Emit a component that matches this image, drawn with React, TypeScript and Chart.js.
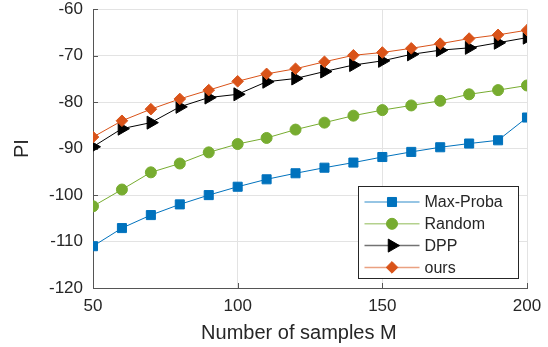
import React, { useEffect, useRef } from 'react';
import { Chart, registerables } from 'chart.js';
import { drawPoint } from 'chart.js/helpers';

Chart.register(...registerables);

const samples = [50, 60, 70, 80, 90, 100, 110, 120, 130, 140, 150, 160, 170, 180, 190, 200];
const maxProba = [-111.0, -107.1, -104.3, -102.0, -100.0, -98.2, -96.6, -95.3, -94.1, -93.0, -91.8, -90.7, -89.7, -88.9, -88.2, -83.3];
const random = [-102.4, -98.8, -95.1, -93.2, -90.8, -89.0, -87.7, -85.9, -84.4, -82.9, -81.7, -80.7, -79.7, -78.3, -77.4, -76.4];
const dpp = [-89.6, -85.7, -84.4, -81.0, -79.0, -78.3, -75.6, -74.9, -73.4, -72.0, -71.1, -69.7, -68.8, -68.3, -67.2, -66.1];
const ours = [-87.5, -84.0, -81.5, -79.3, -77.4, -75.5, -73.9, -72.8, -71.3, -69.9, -69.3, -68.4, -67.4, -66.3, -65.5, -64.5];
const seriesNames = ['Max-Proba', 'Random', 'DPP', 'ours'];
const xTicks = [50, 100, 150, 200];
const yTicks = [-120, -110, -100, -90, -80, -70, -60];

const FONT = "'Liberation Sans', Arial, Helvetica, sans-serif";
const TEXT = '#262626';

type Style = { color: string; pointStyle: string; radius: number; rotation: number };
const styles: Style[] = [
  { color: '#0072BD', pointStyle: 'rect', radius: 6.4, rotation: 0 },
  { color: '#77AC30', pointStyle: 'circle', radius: 5.5, rotation: 0 },
  { color: '#000000', pointStyle: 'triangle', radius: 7.5, rotation: 90 },
  { color: '#D95319', pointStyle: 'rectRot', radius: 5.8, rotation: 0 },
];

const inwardTicks = {
  id: 'inwardTicks',
  beforeDatasetsDraw(chart: any) {
    const { ctx, chartArea } = chart;
    const xs = chart.scales.x;
    const ys = chart.scales.y;
    ctx.save();
    ctx.strokeStyle = '#555555';
    ctx.lineWidth = 1;
    ctx.beginPath();
    yTicks.forEach((v) => {
      const y = Math.round(ys.getPixelForValue(v)) + 0.5;
      ctx.moveTo(chartArea.left, y);
      ctx.lineTo(chartArea.left + 5, y);
    });
    xTicks.forEach((v) => {
      const x = Math.round(xs.getPixelForValue(v)) + 0.5;
      ctx.moveTo(x, chartArea.bottom);
      ctx.lineTo(x, chartArea.bottom - 5);
    });
    ctx.stroke();
    ctx.restore();
  },
};

const boxLegend = {
  id: 'boxLegend',
  afterDraw(chart: any) {
    const { ctx, chartArea } = chart;
    const left = Math.round(chartArea.right - 169) + 0.5;
    const right = Math.round(chartArea.right - 9) + 0.5;
    const bottom = Math.round(chartArea.bottom - 10) + 0.5;
    const top = bottom - 92;
    ctx.save();
    ctx.fillStyle = '#ffffff';
    ctx.fillRect(left, top, right - left, bottom - top);
    ctx.strokeStyle = '#262626';
    ctx.lineWidth = 1;
    ctx.strokeRect(left, top, right - left, bottom - top);
    ctx.font = `16px ${FONT}`;
    ctx.textBaseline = 'middle';
    ctx.textAlign = 'left';
    seriesNames.forEach((name, i) => {
      const s = styles[i];
      const cy = top + 15.5 + i * 21.8;
      ctx.save();
      ctx.globalAlpha = 0.55;
      ctx.strokeStyle = s.color;
      ctx.lineWidth = 1.5;
      ctx.beginPath();
      ctx.moveTo(left + 6, cy);
      ctx.lineTo(left + 61, cy);
      ctx.stroke();
      ctx.restore();
      ctx.fillStyle = s.color;
      ctx.strokeStyle = s.color;
      ctx.lineWidth = 1;
      drawPoint(ctx, { pointStyle: s.pointStyle as any, radius: s.radius, rotation: s.rotation, borderWidth: 1 }, left + 33.5, cy);
      ctx.fillStyle = TEXT;
      ctx.fillText(name, left + 66, cy + 1);
    });
    ctx.restore();
  },
};

const zeroPad = (scale: any) => {
  scale.paddingTop = 0;
  scale.paddingBottom = 0;
  scale.paddingLeft = 0;
  scale.paddingRight = 0;
};

export default function App() {
  const ref = useRef<HTMLCanvasElement | null>(null);
  useEffect(() => {
    if (!ref.current) return;
    const seriesData = [maxProba, random, dpp, ours];
    const chart = new Chart(ref.current, {
      type: 'line',
      data: {
        datasets: seriesData.map((vals, i) => ({
          label: seriesNames[i],
          data: samples.map((x, j) => ({ x, y: vals[j] })),
          borderColor: styles[i].color,
          backgroundColor: styles[i].color,
          pointBackgroundColor: styles[i].color,
          pointBorderColor: styles[i].color,
          pointStyle: styles[i].pointStyle as any,
          pointRadius: styles[i].radius,
          pointRotation: styles[i].rotation,
          pointBorderWidth: 1,
          borderWidth: 1,
          tension: 0,
          order: 3 - i,
        })),
      },
      options: {
        animation: false,
        responsive: false,
        events: [],
        layout: { padding: { top: 9.3, right: 21, left: 0, bottom: 0 } },
        plugins: { legend: { display: false }, tooltip: { enabled: false } },
        scales: {
          x: {
            type: 'linear',
            min: 50,
            max: 200,
            afterBuildTicks: (scale: any) => {
              scale.ticks = xTicks.map((v) => ({ value: v }));
            },
            afterFit: (scale: any) => {
              scale.height = 59;
              zeroPad(scale);
            },
            grid: { color: '#e3e3e3', drawTicks: false, lineWidth: 1 },
            border: { color: '#555555', width: 1 },
            ticks: { color: TEXT, font: { family: FONT, size: 17, lineHeight: 1 }, padding: 10, maxRotation: 0 },
            title: {
              display: true,
              text: 'Number of samples M\u00A0\u00A0\u00A0\u00A0',
              color: TEXT,
              font: { family: FONT, size: 20, lineHeight: 1.2 },
              padding: { top: 0, bottom: 2 },
            },
          },
          y: {
            type: 'linear',
            min: -120,
            max: -60,
            afterBuildTicks: (scale: any) => {
              scale.ticks = yTicks.map((v) => ({ value: v }));
            },
            afterFit: (scale: any) => {
              scale.width = 93;
              zeroPad(scale);
            },
            grid: { color: '#e3e3e3', drawTicks: false, lineWidth: 1 },
            border: { color: '#555555', width: 1 },
            ticks: { color: TEXT, font: { family: FONT, size: 17, lineHeight: 1 }, padding: 10 },
            title: {
              display: true,
              text: 'PI',
              color: TEXT,
              font: { family: FONT, size: 20, lineHeight: 1.2 },
              padding: { top: 10.5, bottom: 0 },
            },
          },
        },
      },
      plugins: [inwardTicks, boxLegend],
    });
    return () => chart.destroy();
  }, []);
  return (
    <div style={{ position: 'absolute', left: 0, top: 0, width: 548, height: 347, background: '#ffffff' }}>
      <canvas ref={ref} width={548} height={347} style={{ width: 548, height: 347, display: 'block' }} />
    </div>
  );
}
